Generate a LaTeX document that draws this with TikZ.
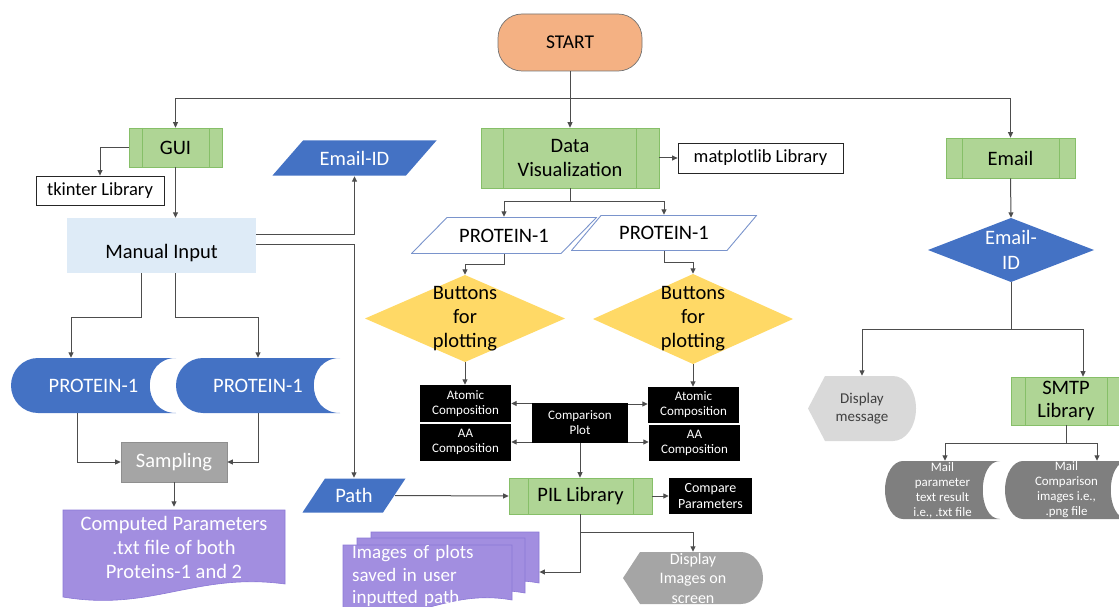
\documentclass[tikz,border=0pt]{standalone}
\usepackage{fontspec}
\setmainfont{Carlito}
\usetikzlibrary{arrows.meta,calc}
\definecolor{orangeF}{HTML}{F4B183}
\definecolor{gF}{HTML}{AFD595}
\definecolor{gD}{HTML}{86BF68}
\definecolor{blueF}{HTML}{4472C4}
\definecolor{pbord}{HTML}{7A94CC}
\definecolor{yel}{HTML}{FFD966}
\definecolor{purp}{HTML}{A28EE0}
\definecolor{pdraw}{HTML}{8B78D6}
\definecolor{grayS}{HTML}{A5A5A5}
\definecolor{grayB}{HTML}{8F8F8F}
\definecolor{grayM}{HTML}{7F7F7F}
\definecolor{grayL}{HTML}{D9D9D9}
\definecolor{manF}{HTML}{DEEBF7}
\definecolor{lineC}{HTML}{4D4D4D}
\newcommand\fz[2]{\fontsize{#1}{#2}\selectfont}
% document shape: x1, x2, ytop, yright (pixel coordinates, y downwards)
\newcommand\docshape[4]{\filldraw[fill=purp,draw=pdraw,line width=0.6pt] (#1,-#3) -- (#2,-#3) -- (#2,-#4) .. controls ({#1+0.6*(#2-#1)},{-(#4-12)}) and ({#1+0.4*(#2-#1)},{-(#4+28)}) .. (#1,{-(#4+13)}) -- cycle;}
\begin{document}
\begin{tikzpicture}[x=1pt,y=1pt,
  every node/.style={inner sep=0pt, align=center, font=\fz{20.5}{24}},
  ln/.style={draw=lineC, line width=1pt},
  arr/.style={ln, -{Triangle[length=5.5pt,width=5pt]}},
  predef/.style={fill=gF, draw=gD, line width=0.7pt,
    path picture={\draw[gD,line width=0.7pt]
      ([xshift=#1]path picture bounding box.north west) -- ([xshift=#1]path picture bounding box.south west)
      ([xshift=-#1]path picture bounding box.north east) -- ([xshift=-#1]path picture bounding box.south east);}},
  para/.style 2 args={path picture={\path[#1] let \p1=(path picture bounding box.north west),\p2=(path picture bounding box.south east) in
      (\x1+#2,\y1-0.5pt) -- (\x2-0.5pt,\y1-0.5pt) -- (\x2-#2,\y2+0.5pt) -- (\x1+0.5pt,\y2+0.5pt) -- cycle;}},
  stored/.style n args={3}{path picture={\fill[#1] let \p1=(path picture bounding box.north west),\p2=(path picture bounding box.south east),\n1={(\y1-\y2)/2} in
      (\x1+#2,\y1) -- (\x2,\y1) .. controls (\x2-#3,\y1) and (\x2-#3,\y2) .. (\x2,\y2) -- (\x1+#2,\y2)
      arc[start angle=270,end angle=90,x radius=#2,y radius=\n1] -- cycle;}},
  display/.style n args={3}{path picture={\fill[#1] let \p1=(path picture bounding box.north west),\p2=(path picture bounding box.south east),\n1={(\y1-\y2)/2} in
      (\x1,\y1-\n1) -- (\x1+#2,\y1) -- (\x2-#3,\y1)
      arc[start angle=90,end angle=-90,x radius=#3,y radius=\n1] -- (\x1+#2,\y2) -- cycle;}},
  diam/.style={path picture={\fill[#1] (path picture bounding box.north) -- (path picture bounding box.east)
      -- (path picture bounding box.south) -- (path picture bounding box.west) -- cycle;}},
  whitebox/.style={fill=white, draw=black!85, line width=0.8pt, font=\fz{18.5}{22}},
  blackbox/.style={fill=black, text=white, font=\fz{13}{15}},
]
\useasboundingbox (0,0) rectangle (1119,-607);

% document shapes (drawn first, under the texts)
\docshape{63}{285}{510}{584}
\docshape{371}{539}{532}{583}
\docshape{357}{525}{538}{593}
\docshape{343}{512}{545}{600}

% ---- nodes ----
\node[fill=orangeF, draw=black!55, line width=0.7pt, rounded corners=24pt, minimum width=144, minimum height=57, font=\fz{19.5}{22}] (start) at (570,-42.5) {START};

\node[predef=13pt, minimum width=93, minimum height=39] (gui) at (175.5,-147.5) {GUI};
\node[whitebox, minimum width=128, minimum height=29] (tk) at (100,-190.5) {tkinter Library};
\node[fill=manF, minimum width=189, minimum height=55] (manual) at (161.5,-245.5) {\raisebox{-12.5pt}[0pt][0pt]{Manual Input}};
\node[para={fill=blueF}{31}, text=white, minimum width=165, minimum height=36] (emailid) at (354.5,-158) {Email-ID};
\node[stored={blueF}{27pt}{35pt}, text=white, minimum width=165, minimum height=55] (p1) at (93.5,-385.5) {PROTEIN-1};
\node[stored={blueF}{27pt}{35pt}, text=white, minimum width=164, minimum height=55] (p2) at (258,-385.5) {PROTEIN-1};
\node[fill=grayS, draw=grayB, line width=0.7pt, text=white, minimum width=106, minimum height=40] (samp) at (174,-462) {Sampling};
\node[text=white, minimum width=222, minimum height=80] (comp) at (174,-547) {Computed Parameters\\.txt file of both\\Proteins-1 and 2};
\node[para={fill=blueF}{23}, text=white, minimum width=104, minimum height=35] (path) at (354,-495.5) {Path};
\node[text=white, align=left, text width=178, inner xsep=9pt, minimum height=64, font=\fz{19}{22.5}, anchor=west] (imgs) at (343,-576) {Images of plots\\saved in user\\inputted path};

\node[predef=22.5pt, minimum width=178, minimum height=60] (dv) at (570,-158) {Data\\Visualization};
\node[whitebox, minimum width=165, minimum height=30] (mpl) at (760.5,-158) {matplotlib Library};
\node[para={fill=white,draw=pbord,line width=0.9pt}{36}, minimum width=186, minimum height=37] (wp1) at (504,-235.5) {PROTEIN-1};
\node[para={fill=white,draw=pbord,line width=0.9pt}{30}, minimum width=186, minimum height=36] (wp2) at (664,-233) {PROTEIN-1};
\node[diam=yel, minimum width=200, minimum height=87] (bd1) at (465,-318.5) {Buttons\\for\\plotting};
\node[diam=yel, minimum width=200, minimum height=90] (bd2) at (693,-319) {Buttons\\for\\plotting};
\node[blackbox, minimum width=91, minimum height=37] (at1) at (465.5,-403.5) {Atomic\\Composition};
\node[blackbox, minimum width=91, minimum height=37] (aa1) at (465.5,-442) {AA\\Composition};
\node[blackbox, minimum width=96, minimum height=40] (cmp) at (580,-423) {Comparison\\Plot};
\node[blackbox, minimum width=91, minimum height=36] (at2) at (693.5,-405) {Atomic\\Composition};
\node[blackbox, minimum width=91, minimum height=36] (aa2) at (694.5,-443) {AA\\Composition};
\node[predef=19pt, minimum width=143, minimum height=36] (pil) at (580.5,-496) {PIL Library};
\node[blackbox, font=\fz{14}{15.5}, minimum width=83, minimum height=36] (cpar) at (710.5,-496) {Compare\\Parameters};
\node[display={grayS}{17pt}{22pt}, text=white, font=\fz{16}{19.5}, minimum width=140, minimum height=52] (dimg) at (693,-578) {Display\\Images on\\screen};

\node[predef=16pt, minimum width=129, minimum height=40] (email) at (1010.5,-158) {Email};
\node[diam=blueF, text=white, font=\fz{20.5}{25}, minimum width=166, minimum height=64] (eid) at (1011,-250) {Email-\\ID};
\node[display={grayL}{17pt}{23pt}, text=black!75, font=\fz{15}{18}, minimum width=108, minimum height=65] (dmsg) at (862,-408.5) {Display\\message};
\node[predef=14pt, font=\fz{20.5}{23}, minimum width=110, minimum height=48] (smtp) at (1066,-401) {SMTP\\Library};
\node[stored={grayM}{18pt}{23pt}, text=white, font=\fz{12.9}{15}, minimum width=115, minimum height=58] (mail1) at (942.5,-490) {Mail\\parameter\\text result\\i.e., .txt file};
\node[stored={grayM}{18pt}{23pt}, text=white, font=\fz{12.9}{15}, minimum width=123, minimum height=58] (mail2) at (1066.5,-490) {Mail\\Comparison\\images i.e.,\\.png file};

% ---- connectors ----
\coordinate (sj) at (570,-99);
\draw[arr] (start.south) -- (dv.north);
\draw[arr] (sj) -| (gui.north);
\draw[arr] (sj) -| (email.north);
\draw[arr] (gui.west) -| (tk.north);
\draw[arr] (gui.south) -- (gui.south |- manual.north);
\draw[arr] ([yshift=11.5pt]manual.east) -| (emailid.south);
\draw[arr] ([yshift=1pt]manual.east) -| (path.north);
\draw[arr] ([xshift=-20.5pt]manual.south) -- ++(0,-44) -| ([xshift=-22.5pt]p1.north);
\draw[arr] ([xshift=13.5pt]manual.south) -- ++(0,-44) -| (p2.north);
\draw[arr] ([xshift=-16.5pt]p1.south) |- (samp.west);
\draw[arr] (p2.south) |- (samp.east);
\draw[arr] (samp.south) -- (comp.north);
\draw[arr] ([xshift=-11pt]path.east) -- (pil.west);
\draw[arr] (dv.east) -- (mpl.west);
\draw[arr] (dv.south) -- ++(0,-13) -| (wp1.north);
\draw[arr] (dv.south) -- ++(0,-13) -| (wp2.north);
\draw[arr] (wp1.south) -- ++(0,-10) -| (bd1.north);
\draw[arr] (wp2.south) -- ++(0,-11) -| (bd2.north);
\draw[arr] (bd1.south) -- (bd1.south |- at1.north);
\draw[arr] (bd2.south) -- (bd2.south |- at2.north);
\draw[arr] (cmp.west |- at1.east) -- (at1.east);
\draw[arr] (cmp.west |- aa1.east) -- (aa1.east);
\draw[arr] ([yshift=1pt]cmp.east |- at2.west) -- ([yshift=1pt]at2.west);
\draw[arr] ([yshift=1pt]cmp.east |- aa2.west) -- ([yshift=1pt]aa2.west);
\draw[arr] (cmp.south) -- (cmp.south |- pil.north);
\draw[arr] (pil.east) -- (cpar.west);
\draw[arr] (pil.south) |- ([yshift=4pt]imgs.east);
\draw[arr] (pil.south) -- ++(0,-18) -| (dimg.north);
\draw[arr] (email.south) -- (eid.north);
\draw[arr] (eid.south) -- ++(0,-47) -| (dmsg.north);
\draw[arr] (eid.south) -- ++(0,-47) -| ([xshift=17pt]smtp.north);
\draw[arr] (smtp.south) -- ++(0,-18) -| ([xshift=2.5pt]mail1.north);
\draw[arr] (smtp.south) -- ++(0,-18) -| ([xshift=30.5pt]mail2.north);
\end{tikzpicture}
\end{document}
